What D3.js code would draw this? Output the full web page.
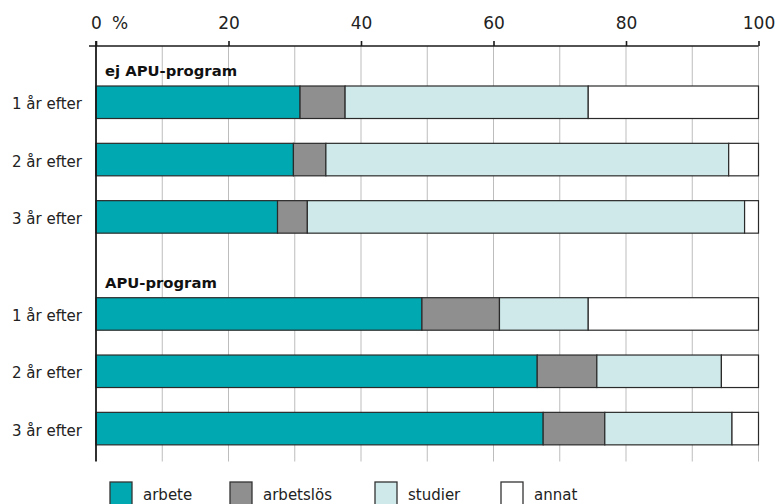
<!DOCTYPE html>
<html>
<head>
<meta charset="utf-8">
<script src="https://cdn.jsdelivr.net/npm/d3@7"></script>
<style>
  body { margin: 0; background: #fff; }
  svg { font-family: "DejaVu Sans", sans-serif; }
</style>
</head>
<body>
<svg width="775" height="504"></svg>
<script>
var groups = ["ej APU-program", "APU-program"];
var rows = ["1 år efter", "2 år efter", "3 år efter"];
var keys = ["arbete", "arbetslös", "studier", "annat"];
var colors = ["#00a9b1", "#8f8f8f", "#cfe8e9", "#ffffff"];
var ticks = [0, 20, 40, 60, 80, 100];

// values per group, row order as in rows
var arbete = [[30.8, 29.8, 27.4], [49.2, 66.6, 67.5]];
var arbetslos = [[6.8, 4.9, 4.5], [11.7, 9.0, 9.3]];
var studier = [[36.7, 60.8, 66.0], [13.4, 18.8, 19.2]];
var annat = [[25.7, 4.5, 2.1], [25.7, 5.6, 4.0]];

var svg = d3.select("svg");

var x = d3.scaleLinear().domain([0, 100]).range([96, 758.5]);
var yGroup = d3.scaleBand().domain(groups).range([86, 86 + 2 * 211.7]);
var yRow = d3.scaleBand().domain(rows).range([0, 2 * 57.33 + 32.5])
  .paddingInner(0.433).paddingOuter(0);
var color = d3.scaleOrdinal().domain(keys).range(colors);

var data = [];
groups.forEach(function (g, gi) {
  rows.forEach(function (r, ri) {
    data.push({
      group: g, row: r,
      arbete: arbete[gi][ri],
      "arbetslös": arbetslos[gi][ri],
      studier: studier[gi][ri],
      annat: annat[gi][ri]
    });
  });
});

var stacked = d3.stack().keys(keys)(data);

var axisTop = 46, axisBottom = 461.5;
var labelFont = "'DejaVu Sans', sans-serif";

// gridlines every 10
svg.append("g")
  .selectAll("line")
  .data(d3.range(10, 101, 10))
  .join("line")
  .attr("x1", d => x(d)).attr("x2", d => x(d))
  .attr("y1", axisTop).attr("y2", axisBottom)
  .attr("stroke", "#bdbdbd")
  .attr("stroke-width", 1);

// bars
svg.append("g")
  .selectAll("g")
  .data(stacked)
  .join("g")
  .attr("fill", d => color(d.key))
  .selectAll("rect")
  .data(d => d)
  .join("rect")
  .attr("x", d => x(d[0]))
  .attr("width", d => x(d[1]) - x(d[0]))
  .attr("y", d => yGroup(d.data.group) + yRow(d.data.row))
  .attr("height", yRow.bandwidth())
  .attr("stroke", "#2a2a2a")
  .attr("stroke-width", 1.2);

// top axis
var axis = d3.axisTop(x).tickValues(ticks).tickSize(5).tickSizeOuter(0).tickPadding(12);
var ax = svg.append("g").attr("transform", "translate(0," + axisTop + ")").call(axis);
ax.select(".domain").attr("stroke", "#1a1a1a").attr("stroke-width", 1.6)
  .attr("d", "M" + (x(0) - 7) + ",0H" + x(100));
ax.selectAll(".tick line").attr("stroke", "#1a1a1a").attr("stroke-width", 1.6);
ax.selectAll(".tick text")
  .attr("font-size", 17)
  .attr("fill", "#222")
  .style("font-family", labelFont);

svg.append("text")
  .attr("x", x(0) + 16)
  .attr("y", 29)
  .attr("font-size", 17)
  .attr("fill", "#222")
  .text("%");

// left axis line
svg.append("line")
  .attr("x1", x(0)).attr("x2", x(0))
  .attr("y1", axisTop - 5).attr("y2", axisBottom)
  .attr("stroke", "#1a1a1a")
  .attr("stroke-width", 1.8);

// row labels
svg.append("g")
  .selectAll("text")
  .data(data)
  .join("text")
  .attr("x", 82)
  .attr("y", d => yGroup(d.group) + yRow(d.row) + yRow.bandwidth() / 2 + 7)
  .attr("text-anchor", "end")
  .attr("font-size", 15)
  .attr("fill", "#222")
  .text(d => d.row);

// group labels
svg.append("g")
  .selectAll("text")
  .data(groups)
  .join("text")
  .attr("x", 105)
  .attr("y", d => yGroup(d) - 9.7)
  .attr("font-size", 14.8)
  .attr("font-weight", 700)
  .attr("fill", "#111")
  .text(d => d);

// legend
var legendX = [110, 230, 375, 501];
var legend = svg.append("g")
  .selectAll("g")
  .data(keys)
  .join("g")
  .attr("transform", (d, i) => "translate(" + legendX[i] + ",482)");

legend.append("rect")
  .attr("width", 22).attr("height", 24)
  .attr("fill", d => color(d))
  .attr("stroke", "#333")
  .attr("stroke-width", 1.3);

legend.append("text")
  .attr("x", 33)
  .attr("y", 17.5)
  .attr("font-size", 15)
  .attr("fill", "#222")
  .text(d => d);
</script>
</body>
</html>
